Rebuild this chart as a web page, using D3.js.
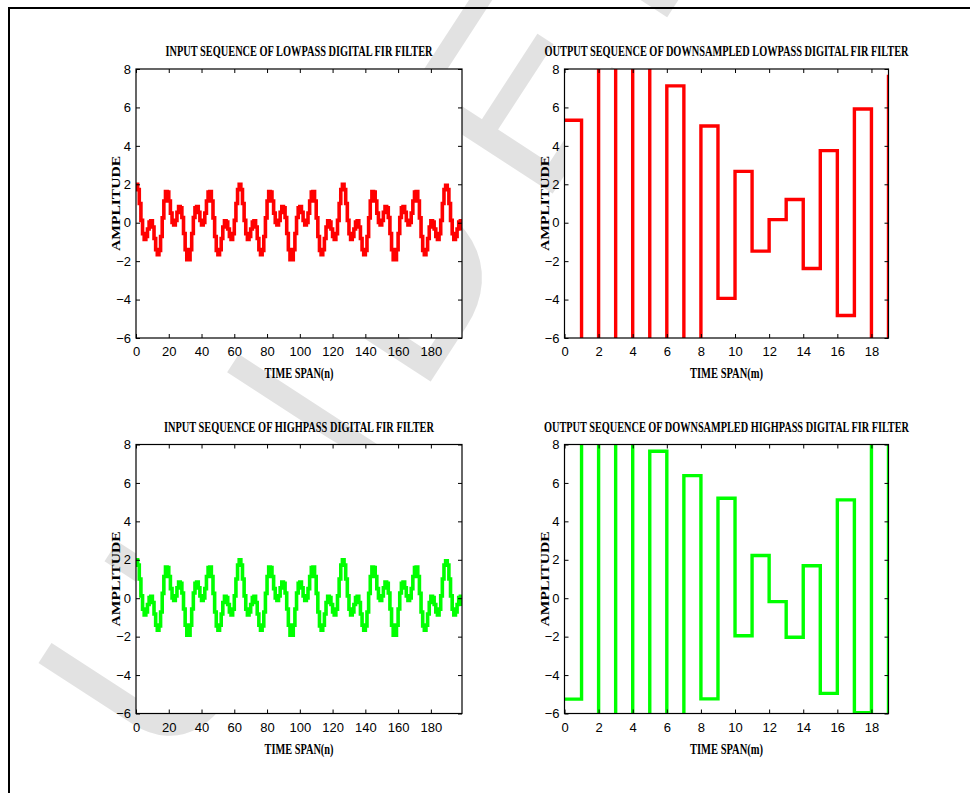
<!DOCTYPE html>
<html><head><meta charset="utf-8">
<script src="https://cdn.jsdelivr.net/npm/d3@7"></script>
<style>
body{margin:0;background:#fff}
svg{display:block}
.tick text{font-family:"Liberation Sans Narrow","Liberation Sans",Arial,sans-serif;font-size:13px;fill:#000}
.tick line{stroke:#000}
.ttl{font-family:"Liberation Serif","Times New Roman",serif;font-weight:bold;fill:#000}
</style>
</head><body>
<svg id="c" width="970" height="793"></svg>
<script>
// ---------- data ----------
const lowpassInput = [
2.00,1.72,1.00,0.12,-0.57,-0.87,-0.72,-0.33,0.03,0.10,-0.22,-0.82,-1.40,-1.67,-1.44,-0.72,0.25,1.13,1.62,1.59,1.13,0.50,0.02,-0.11,0.12,0.54,0.84,0.78,0.27,-0.56,-1.40,-1.93,-1.93,-1.40,-0.56,0.27,0.78,0.84,0.54,0.12,-0.11,0.02,0.50,1.13,1.59,1.62,1.13,0.25,-0.72,-1.44,-1.67,-1.40,-0.82,-0.22,0.10,0.03,-0.33,-0.72,-0.87,-0.57,0.12,1.00,1.72,
2.00,1.72,1.00,0.12,-0.57,-0.87,-0.72,-0.33,0.03,0.10,-0.22,-0.82,-1.40,-1.67,-1.44,-0.72,0.25,1.13,1.62,1.59,1.13,0.50,0.02,-0.11,0.12,0.54,0.84,0.78,0.27,-0.56,-1.40,-1.93,-1.93,-1.40,-0.56,0.27,0.78,0.84,0.54,0.12,-0.11,0.02,0.50,1.13,1.59,1.62,1.13,0.25,-0.72,-1.44,-1.67,-1.40,-0.82,-0.22,0.10,0.03,-0.33,-0.72,-0.87,-0.57,0.12,1.00,1.72,
2.00,1.72,1.00,0.12,-0.57,-0.87,-0.72,-0.33,0.03,0.10,-0.22,-0.82,-1.40,-1.67,-1.44,-0.72,0.25,1.13,1.62,1.59,1.13,0.50,0.02,-0.11,0.12,0.54,0.84,0.78,0.27,-0.56,-1.40,-1.93,-1.93,-1.40,-0.56,0.27,0.78,0.84,0.54,0.12,-0.11,0.02,0.50,1.13,1.59,1.62,1.13,0.25,-0.72,-1.44,-1.67,-1.40,-0.82,-0.22,0.10,0.03,-0.33,-0.72,-0.87,-0.57,0.12,1.00,1.72,
1.95,1.72,1.00,0.12,-0.57,-0.87,-0.72,-0.33,0.03,0.10,-0.40
];
const highpassInput = lowpassInput.slice(); // identical trace in the reference
const lowpassOutput  = [5.33,-12,14,-14,13,-11,7.12,-9,5.03,-3.94,2.67,-1.48,0.16,1.21,-2.38,3.75,-4.83,5.92,-8,7.7];
const highpassOutput = [-5.25,12,-14,14,-12,7.65,-10,6.38,-5.24,5.2,-1.95,2.22,-0.18,-2.03,1.69,-4.95,5.12,-5.96,12,-12];
const yTicks = [-6,-4,-2,0,2,4,6,8];
const inputXTicks = [0,20,40,60,80,100,120,140,160,180];
const outputXTicks = [0,2,4,6,8,10,12,14,16,18];
const titles = ["INPUT SEQUENCE OF LOWPASS DIGITAL FIR FILTER","OUTPUT SEQUENCE OF DOWNSAMPLED LOWPASS DIGITAL FIR FILTER",
                "INPUT SEQUENCE OF HIGHPASS DIGITAL FIR FILTER","OUTPUT SEQUENCE OF DOWNSAMPLED HIGHPASS DIGITAL FIR FILTER"];
const xLabels = ["TIME SPAN(n)","TIME SPAN(m)"];
const yLabel = "AMPLITUDE";
const watermark = "UNDER";

// ---------- drawing ----------
const svg = d3.select("#c");
svg.append("rect").attr("width",970).attr("height",793).attr("fill","#fff");

// watermark (sits behind the figure; plot areas are opaque white)
svg.append("text").text(watermark)
  .attr("transform","translate(175,775) rotate(-57)")
  .attr("font-family","Liberation Sans, Arial, sans-serif")
  .attr("font-size",255)
  .attr("letter-spacing",40)
  .attr("fill","#e2e2e2");

// outer frame
svg.append("path").attr("d","M9,793V8H970").attr("fill","none").attr("stroke","#000").attr("stroke-width",2);

const panels = [
  {x0:136,x1:462,y0:69,y1:338,xMax:199,data:lowpassInput,xt:inputXTicks,color:"#ff0000",title:titles[0],tLen:267,xl:xLabels[0],xlLen:69,sw:3.6},
  {x0:564.5,x1:888.5,y0:69,y1:338,xMax:19,data:lowpassOutput,xt:outputXTicks,color:"#ff0000",title:titles[1],tLen:364,xl:xLabels[1],xlLen:73,sw:3.4},
  {x0:136,x1:462,y0:444.5,y1:713.5,xMax:199,data:highpassInput,xt:inputXTicks,color:"#00ff00",title:titles[2],tLen:270,xl:xLabels[0],xlLen:69,sw:3.6},
  {x0:564.5,x1:888.5,y0:444.5,y1:713.5,xMax:19,data:highpassOutput,xt:outputXTicks,color:"#00ff00",title:titles[3],tLen:365,xl:xLabels[1],xlLen:73,sw:3.4}
];

panels.forEach((p,k)=>{
  const x = d3.scaleLinear().domain([0,p.xMax]).range([p.x0,p.x1]);
  const y = d3.scaleLinear().domain([-6,8]).range([p.y1,p.y0]);
  const g = svg.append("g");
  const cid = "clip"+k;
  svg.append("clipPath").attr("id",cid).append("rect")
    .attr("x",p.x0).attr("y",p.y0).attr("width",p.x1-p.x0).attr("height",p.y1-p.y0);

  g.append("rect").attr("x",p.x0).attr("y",p.y0).attr("width",p.x1-p.x0).attr("height",p.y1-p.y0)
    .attr("fill","#fff");

  const line = d3.line().x((d,i)=>x(i)).y(d=>y(d)).curve(d3.curveStepAfter);
  g.append("path").attr("clip-path",`url(#${cid})`).attr("d",line(p.data))
    .attr("fill","none").attr("stroke",p.color).attr("stroke-width",p.sw)
    .attr("stroke-linejoin","miter");

  // axes with inward ticks (box on)
  const ax = g.append("g").attr("transform",`translate(0,${p.y1})`)
    .call(d3.axisBottom(x).tickValues(p.xt).tickSizeInner(-4).tickSizeOuter(0).tickPadding(9).tickFormat(d3.format("d")));
  const axT = g.append("g").attr("transform",`translate(0,${p.y0})`)
    .call(d3.axisTop(x).tickValues(p.xt).tickSizeInner(-4).tickSizeOuter(0).tickFormat(""));
  const ay = g.append("g").attr("transform",`translate(${p.x0},0)`)
    .call(d3.axisLeft(y).tickValues(yTicks).tickSizeInner(-4).tickSizeOuter(0).tickPadding(5).tickFormat(d3.format("d")));
  const ayR = g.append("g").attr("transform",`translate(${p.x1},0)`)
    .call(d3.axisRight(y).tickValues(yTicks).tickSizeInner(-4).tickSizeOuter(0).tickFormat(""));
  [ax,axT,ay,ayR].forEach(a=>a.select(".domain").remove());
  g.append("rect").attr("x",p.x0).attr("y",p.y0).attr("width",p.x1-p.x0).attr("height",p.y1-p.y0)
    .attr("fill","none").attr("stroke","#000").attr("stroke-width",1.2);

  const cx = (p.x0+p.x1)/2;
  g.append("text").attr("class","ttl").attr("x",cx).attr("y",p.y0-13)
    .attr("text-anchor","middle").attr("font-size",14)
    .attr("textLength",p.tLen).attr("lengthAdjust","spacingAndGlyphs").text(p.title);
  g.append("text").attr("class","ttl").attr("x",cx).attr("y",p.y1+40)
    .attr("text-anchor","middle").attr("font-size",14)
    .attr("textLength",p.xlLen).attr("lengthAdjust","spacingAndGlyphs").text(p.xl);
  const yc = (p.y0+p.y1)/2;
  g.append("text").attr("class","ttl")
    .attr("transform",`translate(${p.x0-16},${yc}) rotate(-90)`)
    .attr("text-anchor","middle").attr("font-size",13)
    .attr("textLength",95).attr("lengthAdjust","spacingAndGlyphs").text(yLabel);
});
</script>
</body></html>
